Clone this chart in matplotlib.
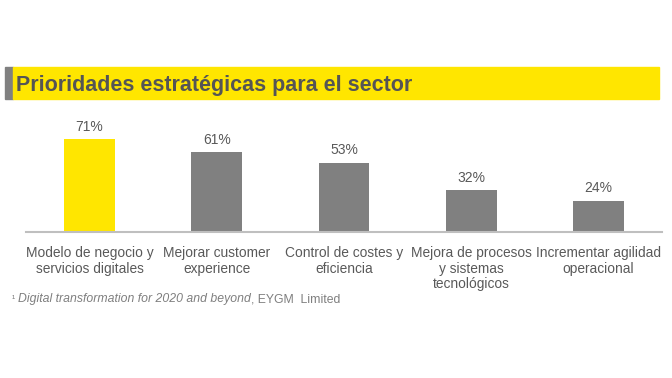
import matplotlib.pyplot as plt
from matplotlib.patches import Rectangle

plt.rcParams['font.family'] = ['Liberation Sans', 'DejaVu Sans']

categories = ["Modelo de negocio y\nservicios digitales",
              "Mejorar customer\nexperience",
              "Control de costes y\neficiencia",
              "Mejora de procesos\ny sistemas\ntecnológicos",
              "Incrementar agilidad\noperacional"]
values = [71, 61, 53, 32, 24]
value_labels = ["71%", "61%", "53%", "32%", "24%"]

yellow = "#FFE600"
grey = "#808080"
text_grey = "#595959"

W, H = 672, 378
fig = plt.figure(figsize=(6.72, 3.78), dpi=100)

# title band
fig.patches.append(Rectangle((5 / W, 1 - 99 / H), 8 / W, 32 / H,
                             transform=fig.transFigure, color=grey, zorder=0))
fig.patches.append(Rectangle((13 / W, 1 - 99 / H), 646 / W, 32 / H,
                             transform=fig.transFigure, color=yellow, zorder=0))
fig.text(16 / W, 1 - 85 / H, "Prioridades estratégicas para el sector",
         fontsize=15.5, fontweight='bold', color="#555555", va='center', ha='left')

# bars
ax = fig.add_axes([26 / W, 1 - 232 / H, 636 / W, 131 / H])
colors = [yellow] + [grey] * (len(values) - 1)
x = range(len(values))
ax.bar(x, values, width=0.4, color=colors)
for xi, v, lab in zip(x, values, value_labels):
    ax.text(xi, v + 4, lab, ha='center', va='bottom', fontsize=10, color=text_grey)
ax.set_xlim(-0.5, len(values) - 0.5)
ax.set_ylim(0, 100)
for s in ['top', 'right', 'left']:
    ax.spines[s].set_visible(False)
ax.spines['bottom'].set_color("#BFBFBF")
ax.spines['bottom'].set_linewidth(1.5)
ax.set_yticks([])
ax.set_xticks(list(x))
ax.set_xticklabels(categories, fontsize=9.9, color=text_grey, linespacing=1.15)
ax.tick_params(axis='x', length=0, pad=10)

# footnote
fy = 1 - 302 / H
t1 = fig.text(12 / W, fy, "¹ ", fontsize=7, color="#7f7f7f", va='baseline')
t2 = fig.text(0, 0, "Digital transformation for 2020 and beyond", fontsize=8.8,
              style='italic', color="#7f7f7f", va='baseline')
t3 = fig.text(0, 0, ", EYGM  Limited", fontsize=8.8, color="#7f7f7f", va='baseline')
fig.canvas.draw()
r = fig.canvas.get_renderer()
bb = t1.get_window_extent(r)
t2.set_position((bb.x1 / W, fy))
bb = t2.get_window_extent(r)
t3.set_position((bb.x1 / W, fy))

fig.savefig("out.png", dpi=100)
